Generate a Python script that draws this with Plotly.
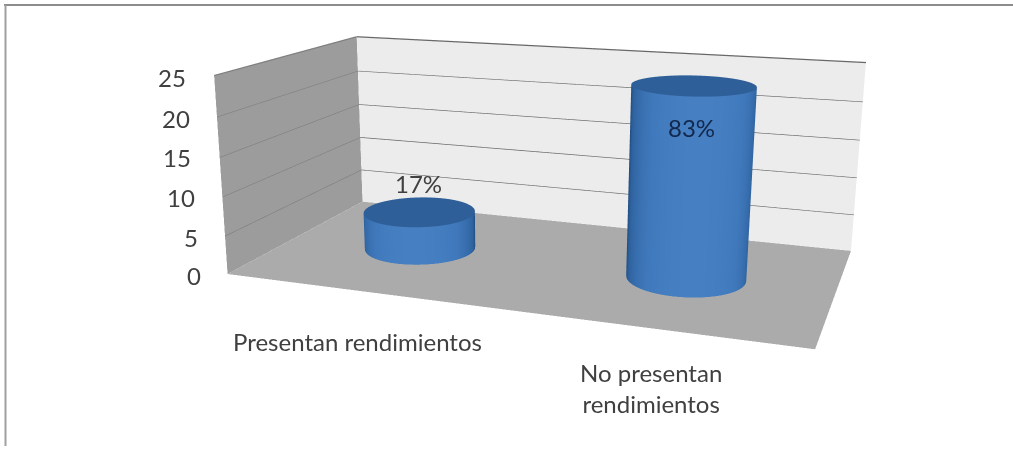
import numpy as np
import plotly.graph_objects as go

categories = ["Presentan rendimientos", "No presentan<br>rendimientos"]
values = [5, 24]
labels = ["17%", "83%"]
ticks = [0, 5, 10, 15, 20, 25]
tick_x = [203, 200, 197, 193, 192, 188]
tick_y = [275, 237, 197, 157, 118, 77]

W, H = 1013, 449
# Plotly's 3D view has a fixed 45 degree lens, so the scene is taller than the window
# and centred on it to reach the longer focal length of the original chart.
PH = 1027
TOP = (PH - H) // 2

yaw, pitch, roll = -0.3601, 0.2825, -0.0017
pos = np.array([0.6735, -1.9985, 0.5085])
aspect = dict(x=1.0, y=0.5136, z=0.3468)
f = np.array([np.sin(yaw)*np.cos(pitch), np.cos(yaw)*np.cos(pitch), -np.sin(pitch)])
r0 = np.cross(f, [0, 0, 1.0]); r0 /= np.linalg.norm(r0)
u0 = np.cross(r0, f)
u = -np.sin(roll)*r0 + np.cos(roll)*u0
eye = dict(zip("xyz", map(float, pos)))
center = dict(zip("xyz", map(float, pos + f*np.linalg.norm(pos))))
up = dict(zip("xyz", map(float, u)))

xmax, ymax, zmax = len(values), 1.0, ticks[-1]
flat = dict(ambient=1, diffuse=0, specular=0, roughness=1, fresnel=0)

def wall(xs, ys, zs, color):
    return go.Mesh3d(x=xs, y=ys, z=zs, i=[0,0], j=[1,2], k=[2,3], color=color,
                     flatshading=True, lighting=flat, hoverinfo="skip", showscale=False)

fig = go.Figure()
fig.add_trace(wall([0,xmax,xmax,0],[0,0,ymax,ymax],[0,0,0,0],"#ababab"))
fig.add_trace(wall([0,0,0,0],[0,ymax,ymax,0],[0,0,zmax,zmax],"#9c9c9c"))
fig.add_trace(wall([0,xmax,xmax,0],[ymax,ymax,ymax,ymax],[0,0,zmax,zmax],"#ececec"))
for t in ticks[1:]:
    fig.add_trace(go.Scatter3d(x=[0,0], y=[0,ymax], z=[t,t], mode="lines",
                               line=dict(color="#7f7f7f", width=2.5), hoverinfo="skip", showlegend=False))
    fig.add_trace(go.Scatter3d(x=[0,xmax], y=[ymax,ymax], z=[t,t], mode="lines",
                               line=dict(color="#686868", width=2.5), hoverinfo="skip", showlegend=False))

rad = 0.204
ry = rad * (aspect["x"]/xmax) / (aspect["y"]/ymax)
th = np.linspace(0, 2*np.pi, 121)
view = np.arctan2(pos[1], pos[0])
scale = [[0,"#1f4a7e"],[0.5,"#1f4a7e"],[0.62,"#2f639f"],[0.85,"#3f78bb"],[1,"#467fc2"]]
for i, v in enumerate(values):
    cx = i + 0.5
    cy = 0.5
    X = cx + rad*np.cos(th)
    Y = cy + ry*np.sin(th)
    xs = np.vstack([X, X]); ys = np.vstack([Y, Y]); zs = np.vstack([0*th, 0*th + v])
    col = np.vstack([np.cos(th-view), np.cos(th-view)])
    fig.add_trace(go.Surface(x=xs, y=ys, z=zs, surfacecolor=col, cmin=-1, cmax=1, colorscale=scale,
                             showscale=False, lighting=flat, hoverinfo="skip"))
    rr = np.array([0, 1.0])
    xc = cx + rad*np.outer(rr, np.cos(th)); yc = cy + ry*np.outer(rr, np.sin(th))
    zc = np.full_like(xc, v, dtype=float)
    fig.add_trace(go.Surface(x=xc, y=yc, z=zc, surfacecolor=0*zc, cmin=0, cmax=1,
                             colorscale=[[0,"#2f5f98"],[1,"#2f5f98"]], showscale=False, lighting=flat, hoverinfo="skip"))

ax = dict(visible=False)
font = dict(family="Lato, Carlito, sans-serif", size=24, color="#404040")
def py(y):
    return 1 - (y + TOP)/PH
def note(x, y, text, anchor="center"):
    return dict(x=x/W, y=py(y), xref="paper", yref="paper", text=text, showarrow=False,
                xanchor=anchor, yanchor="middle", font=font)
anns = []
for t, x, y in zip(ticks, tick_x, tick_y):
    anns.append(note(x, y, str(t), "right"))
anns.append(note(418, 184, labels[0]))
anns.append(note(691, 128, labels[1]))
anns[-1]["font"] = dict(font, color="#12284d")
anns.append(note(357, 341, categories[0]))
anns.append(note(651, 388, categories[1]))

frame = [
    dict(type="line", xref="paper", yref="paper", x0=4/W, x1=1, y0=py(5), y1=py(5),
         line=dict(color="#8c8c8c", width=2)),
    dict(type="line", xref="paper", yref="paper", x0=5.5/W, x1=5.5/W, y0=py(446), y1=py(5),
         line=dict(color="#a0a0a0", width=2)),
]
fig.update_layout(width=W, height=PH, margin=dict(l=0,r=0,t=0,b=0), paper_bgcolor="white", showlegend=False,
    annotations=anns, shapes=frame,
    scene=dict(domain=dict(x=[0,1], y=[0,1]), xaxis=dict(ax, range=[0,xmax]), yaxis=dict(ax, range=[0,ymax]),
               zaxis=dict(ax, range=[0,zmax]), aspectmode="manual", aspectratio=aspect,
               camera=dict(eye=eye, center=center, up=up, projection=dict(type="perspective")),
               bgcolor="white"))
fig.write_html("out.html", config=dict(displayModeBar=False),
    post_script=f"document.documentElement.style.overflow='hidden';document.body.style.overflow='hidden';document.body.style.margin='0';document.body.style.marginTop='-{TOP}px';")
